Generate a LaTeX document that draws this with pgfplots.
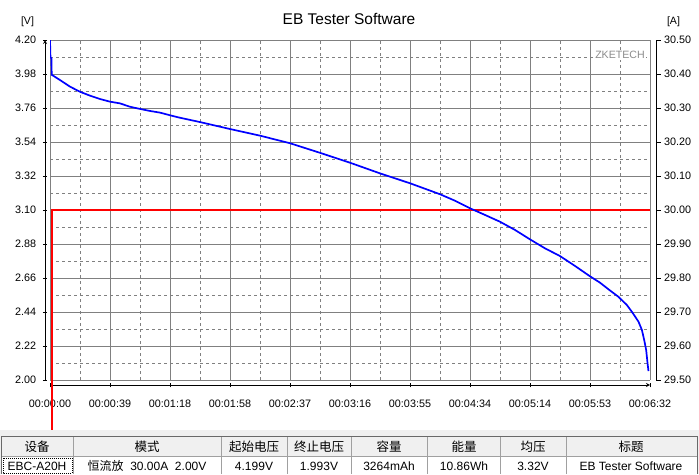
\documentclass[border=0pt]{standalone}
\usepackage{pgfplots}
\pgfplotsset{compat=1.18}
\usepackage{fontspec}
\setmainfont{Liberation Sans}
\newfontfamily\cjk{Noto Sans CJK SC}
\definecolor{gridgray}{RGB}{128,128,128}
\definecolor{bandgray}{RGB}{240,240,240}
\definecolor{cellline}{RGB}{160,160,160}
\definecolor{celldark}{RGB}{105,105,105}
\definecolor{zkgray}{RGB}{140,140,140}
\pgfplotsset{
  commonaxis/.style={
    at={(50pt,-380pt)}, anchor=south west,
    width=600pt, height=340pt, scale only axis,
    xmin=0, xmax=392,
    axis line style={-, black, line width=0.8pt},
    tick align=outside, major tick length=4.5pt, minor tick length=0pt,
    tick style={black, line width=0.8pt},
    ticklabel style={font=\fontsize{10.8}{12}\selectfont},
  }
}
\begin{document}
\begin{tikzpicture}
\path (0pt,0pt) rectangle (699pt,-474pt);
\fill[bandgray] (0pt,-430pt) rectangle (699pt,-474pt);

% voltage axis: grid, ticks
\begin{axis}[commonaxis,
  ymin=2.0, ymax=4.2,
  axis x line=bottom, axis y line=left,
  axis x line shift=5pt, axis y line shift=5pt,
  xtick={0,39.2,78.4,117.6,156.8,196,235.2,274.4,313.6,352.8,392},
  xticklabels={00:00:00,00:00:39,00:01:18,00:01:58,00:02:37,00:03:16,00:03:55,00:04:34,00:05:14,00:05:53,00:06:32},
  ytick={2.00,2.22,2.44,2.66,2.88,3.10,3.32,3.54,3.76,3.98,4.20},
  yticklabels={2.00,2.22,2.44,2.66,2.88,3.10,3.32,3.54,3.76,3.98,4.20},
  xticklabel style={yshift=-9pt},
  yticklabel style={xshift=-3pt},
  minor x tick num=1, minor y tick num=1,
  grid=both,
  major grid style={gridgray, line width=0.8pt, solid},
  minor grid style={gridgray, line width=0.8pt, dash pattern=on 3pt off 3pt},
]
\end{axis}

% current axis
\begin{axis}[commonaxis,
  ymin=29.5, ymax=30.5,
  hide x axis,
  axis y line*=right, axis y line shift=6pt,
  ytick={29.5,29.6,29.7,29.8,29.9,30.0,30.1,30.2,30.3,30.4,30.5},
  yticklabels={29.50,29.60,29.70,29.80,29.90,30.00,30.10,30.20,30.30,30.40,30.50},
  clip=false,
]
\addplot[red, line width=1.8pt] coordinates {(1.2,29.353) (1.2,30.0) (392,30.0)};
\end{axis}

% voltage curve
\begin{axis}[commonaxis, ymin=2.0, ymax=4.2, hide axis]
\addplot[blue, line width=1.7pt] coordinates {
(0,4.20) (0.3,4.09) (1.0,4.08) (1.1,3.975) (1.3,3.974) (6.5,3.941) (13.1,3.898)
(19.6,3.865) (26.1,3.840) (32.7,3.818) (39.2,3.801) (45.7,3.790) (52.3,3.768)
(58.8,3.754) (65.3,3.741) (71.9,3.730) (78.4,3.713) (84.9,3.697) (98,3.669)
(117.6,3.624) (137.2,3.581) (156.8,3.532) (176.4,3.470) (196,3.406) (215.6,3.337)
(235.2,3.273) (254.8,3.202) (264.6,3.160) (274.4,3.111) (284.2,3.068) (294,3.024)
(303.8,2.971) (313.6,2.910) (323.4,2.852) (333.2,2.802) (343,2.738) (352.8,2.671)
(359.3,2.630) (365.9,2.579) (371.3,2.539) (376.9,2.485) (380.1,2.442) (382.3,2.410)
(384.5,2.377) (386.7,2.324) (388.2,2.259) (389.5,2.194) (390.4,2.108) (391.0,2.058)
};
\end{axis}

% titles and units
\node[font=\fontsize{15.5}{17}\selectfont] at (349pt,-19pt) {EB Tester Software};
\node[font=\fontsize{10.6}{12}\selectfont] at (27.5pt,-22pt) {[V]};
\node[font=\fontsize{10.6}{12}\selectfont] at (673.5pt,-22pt) {[A]};
\node[font=\fontsize{10.6}{12}\selectfont, text=zkgray, fill=white, inner sep=1pt] at (620pt,-55pt) {ZKETECH};

% table
\fill[bandgray] (1pt,-436pt) rectangle (697pt,-456pt);
\fill[white] (1pt,-456pt) rectangle (697pt,-474pt);
\foreach \xx in {73.5,221,287.5,351,427.5,500.5,566}{
  \draw[cellline, line width=0.8pt] (\xx pt,-436pt) -- (\xx pt,-474pt);
}
\draw[cellline, line width=0.8pt] (1pt,-456pt) -- (697pt,-456pt);
\draw[celldark, line width=0.8pt] (1pt,-474pt) -- (1pt,-436pt) -- (697pt,-436pt) -- (697pt,-474pt);
\draw[black, line width=0.6pt, dash pattern=on 1pt off 1pt] (3pt,-458pt) rectangle (72pt,-473pt);

\begin{scope}[every node/.style={font=\fontsize{12.5}{14}\selectfont\cjk}]
\node at (37pt,-447pt) {设备};
\node at (147pt,-447pt) {模式};
\node at (254pt,-447pt) {起始电压};
\node at (319pt,-447pt) {终止电压};
\node at (389pt,-447pt) {容量};
\node at (464pt,-447pt) {能量};
\node at (533pt,-447pt) {均压};
\node at (631pt,-447pt) {标题};
\end{scope}
\begin{scope}[every node/.style={font=\fontsize{12}{14}\selectfont}]
\node at (37pt,-466pt) {EBC-A20H};
\node at (147pt,-466pt) {{\cjk 恒流放}\ \ 30.00A\ \ 2.00V};
\node at (254pt,-466pt) {4.199V};
\node at (319pt,-466pt) {1.993V};
\node at (389pt,-466pt) {3264mAh};
\node at (464pt,-466pt) {10.86Wh};
\node at (533pt,-466pt) {3.32V};
\node at (631pt,-466pt) {EB Tester Software};
\end{scope}
\end{tikzpicture}
\end{document}
